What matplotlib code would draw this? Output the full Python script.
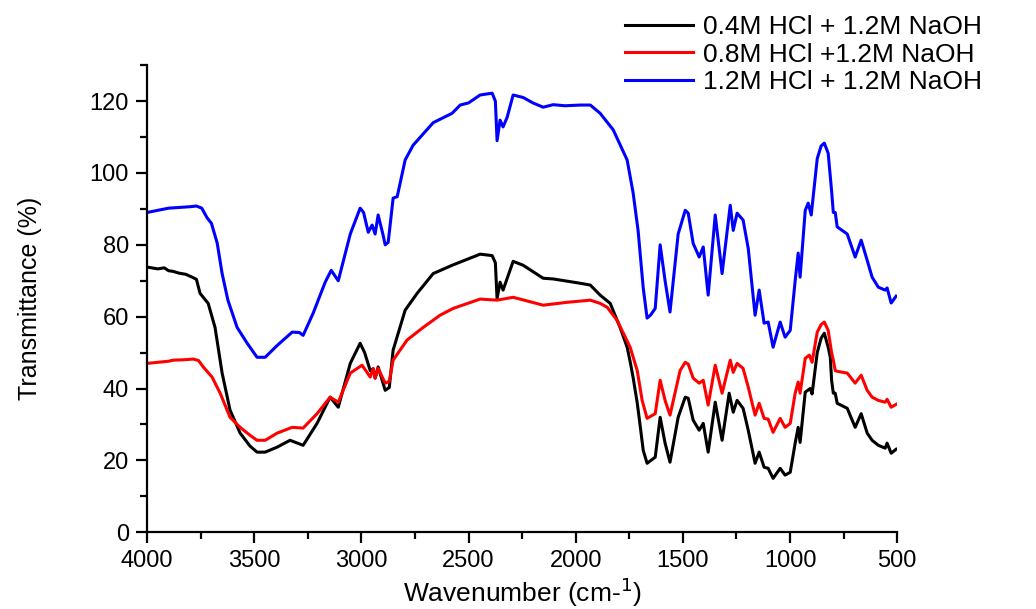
import matplotlib
matplotlib.use("Agg")
import matplotlib.pyplot as plt
from matplotlib.ticker import MultipleLocator

# ---------------- data ----------------
labels = ["0.4M HCl + 1.2M NaOH", "0.8M HCl +1.2M NaOH", "1.2M HCl + 1.2M NaOH"]
colors = ["black", "red", "blue"]

# 0.4M HCl
wn_black = [4000, 3950, 3920, 3900, 3878, 3850, 3820, 3790, 3770, 3753, 3715, 3683, 3650, 3613,
            3566, 3520, 3487, 3449, 3393, 3333, 3272, 3207, 3146, 3108, 3052, 3006, 2985, 2959,
            2945, 2936, 2922, 2889, 2870, 2852, 2796, 2740, 2665, 2577, 2539, 2446, 2390, 2375,
            2367, 2353, 2339, 2292, 2245, 2152, 2105, 1979, 1932, 1886, 1839, 1807, 1793, 1760,
            1746, 1732, 1713, 1700, 1685, 1667, 1629, 1606, 1583, 1560, 1522, 1489, 1475, 1452,
            1424, 1405, 1382, 1349, 1317, 1284, 1265, 1247, 1219, 1195, 1163, 1144, 1121, 1102,
            1079, 1046, 1023, 999, 976, 962, 953, 929, 906, 897, 873, 855, 840, 822, 812, 806,
            798, 789, 780, 733, 696, 668, 640, 617, 588, 556, 547, 528, 505]
t_black = [73.8, 73.3, 73.6, 72.8, 72.6, 72.1, 71.8, 71.0, 70.4, 66.5, 63.7, 57.0, 44.3, 34.0,
           27.6, 24.0, 22.3, 22.3, 23.7, 25.6, 24.2, 30.3, 37.6, 34.8, 47.0, 52.6, 50.0, 45.0,
           45.5, 42.9, 46.0, 39.5, 40.3, 50.7, 61.8, 66.5, 72.0, 74.3, 75.2, 77.4, 77.0, 75.0,
           65.0, 69.6, 67.4, 75.4, 74.3, 70.7, 70.5, 69.3, 68.8, 66.0, 63.7, 59.0, 57.0, 51.5,
           47.5, 43.0, 36.0, 30.0, 22.8, 19.2, 20.9, 32.0, 24.8, 19.5, 32.0, 37.6, 37.3, 31.2,
           28.4, 30.3, 22.3, 36.2, 25.6, 38.7, 33.4, 36.7, 34.5, 28.4, 19.2, 22.3, 18.1, 17.8,
           15.0, 17.8, 15.9, 16.7, 24.8, 29.2, 25.0, 39.0, 40.0, 38.5, 50.0, 54.0, 55.4, 51.5,
           48.7, 42.3, 38.7, 38.7, 35.9, 34.5, 29.2, 33.0, 27.6, 25.6, 24.2, 23.4, 24.8, 22.0, 23.1]

# 0.8M HCl
wn_red = [4000, 3950, 3900, 3878, 3830, 3785, 3760, 3738, 3697, 3659, 3613, 3566, 3520, 3487,
          3449, 3393, 3323, 3272, 3207, 3146, 3108, 3052, 2997, 2959, 2945, 2936, 2922, 2889,
          2870, 2852, 2787, 2712, 2633, 2572, 2446, 2367, 2292, 2152, 2040, 1932, 1886, 1853,
          1807, 1746, 1713, 1690, 1667, 1629, 1606, 1583, 1560, 1513, 1489, 1475, 1452, 1424,
          1405, 1382, 1349, 1317, 1279, 1265, 1247, 1219, 1195, 1163, 1144, 1121, 1102, 1079,
          1046, 1023, 999, 976, 962, 953, 929, 910, 897, 873, 855, 840, 822, 806, 798, 789,
          780, 733, 696, 668, 640, 617, 588, 556, 547, 528, 505]
t_red = [47.0, 47.3, 47.6, 47.9, 48.0, 48.2, 47.8, 46.0, 43.2, 38.7, 32.0, 29.2, 27.0, 25.6,
         25.6, 27.6, 29.2, 29.0, 33.0, 37.6, 36.2, 44.3, 46.5, 43.2, 45.6, 42.9, 45.6, 41.5,
         42.0, 47.9, 53.5, 57.0, 60.4, 62.3, 64.9, 64.6, 65.4, 63.2, 64.0, 64.6, 63.7, 62.6,
         59.0, 51.5, 45.0, 36.7, 31.7, 33.0, 42.3, 36.7, 32.6, 45.0, 47.3, 46.8, 42.9, 41.5,
         42.3, 35.4, 46.5, 38.7, 47.9, 44.5, 47.0, 45.6, 40.4, 32.6, 35.9, 31.7, 31.5, 27.8,
         31.7, 29.2, 30.3, 38.7, 41.8, 38.7, 48.4, 49.3, 47.3, 55.7, 57.8, 58.5, 56.2, 50.0,
         47.9, 45.0, 44.8, 44.3, 41.5, 43.7, 39.5, 37.6, 36.7, 36.2, 37.0, 34.8, 35.6]

# 1.2M HCl
wn_blue = [4000, 3950, 3900, 3850, 3800, 3770, 3745, 3720, 3700, 3673, 3650, 3623, 3580, 3533,
           3487, 3449, 3393, 3323, 3290, 3272, 3225, 3169, 3141, 3108, 3052, 3006, 2990, 2968,
           2950, 2936, 2922, 2900, 2889, 2875, 2852, 2833, 2796, 2759, 2665, 2577, 2539, 2500,
           2446, 2390, 2375, 2367, 2353, 2339, 2320, 2292, 2245, 2200, 2152, 2105, 2050, 1979,
           1932, 1886, 1825, 1760, 1732, 1709, 1685, 1667, 1650, 1629, 1606, 1583, 1560, 1522,
           1489, 1475, 1452, 1424, 1405, 1382, 1349, 1317, 1279, 1265, 1247, 1219, 1195, 1163,
           1144, 1121, 1102, 1079, 1046, 1023, 999, 976, 962, 953, 929, 915, 901, 873, 855,
           840, 822, 806, 798, 789, 780, 733, 696, 668, 640, 617, 588, 556, 547, 528, 505]
t_blue = [89.0, 89.6, 90.2, 90.4, 90.6, 90.8, 90.2, 87.5, 86.0, 80.5, 72.0, 64.6, 57.0, 52.6,
          48.7, 48.7, 52.0, 55.7, 55.6, 54.8, 61.0, 69.6, 72.9, 70.0, 83.0, 90.2, 89.0, 83.5,
          85.5, 83.0, 88.3, 83.0, 80.0, 80.7, 93.0, 93.4, 103.6, 107.7, 114.0, 116.6, 118.9, 119.5,
          121.7, 122.2, 120.0, 109.0, 114.7, 112.8, 115.5, 121.7, 121.0, 119.5, 118.3, 119.0, 118.7, 118.9,
          118.9, 116.6, 112.0, 103.6, 94.4, 84.0, 68.0, 59.6, 60.5, 62.3, 80.0, 70.0, 61.3, 83.0,
          89.6, 88.8, 80.4, 76.6, 79.4, 66.0, 88.3, 72.0, 91.0, 84.0, 88.8, 86.9, 79.0, 60.4,
          67.4, 58.2, 58.5, 51.5, 58.5, 54.3, 56.2, 70.0, 77.7, 71.0, 89.6, 91.6, 88.3, 104.0, 107.5,
          108.3, 105.5, 95.0, 89.0, 89.0, 85.0, 83.0, 76.6, 81.3, 75.7, 71.0, 68.2, 67.4, 68.0, 63.8, 65.7]

# ---------------- plot ----------------
plt.rcParams['font.family'] = ['Liberation Sans', 'DejaVu Sans']

fig = plt.figure(figsize=(10.36, 6.09), dpi=100)
ax = fig.add_axes([0.142, 0.126, 0.724, 0.767])

series = [(wn_black, t_black), (wn_red, t_red), (wn_blue, t_blue)]
for (wn, t), lab, c in zip(series, labels, colors):
    ax.plot(wn, t, color=c, lw=2.2, label=lab)

ax.set_xlim(4000, 500)
ax.set_ylim(0, 130)
ax.xaxis.set_major_locator(MultipleLocator(500))
ax.xaxis.set_minor_locator(MultipleLocator(250))
ax.yaxis.set_major_locator(MultipleLocator(20))
ax.yaxis.set_minor_locator(MultipleLocator(10))

for s in ["top", "right"]:
    ax.spines[s].set_visible(False)
for s in ["left", "bottom"]:
    ax.spines[s].set_linewidth(1.6)
ax.tick_params(which="major", direction="out", length=8, width=1.6, labelsize=17, pad=5)
ax.tick_params(which="minor", direction="out", length=5, width=1.6)

ax.set_xlabel("Wavenumber (cm-$^{1}$)", fontsize=19, labelpad=2)
ax.set_ylabel("Transmittance (%)", fontsize=18, labelpad=34)

fig.legend(loc="upper left", bbox_to_anchor=(0.585, 1.005), frameon=False, fontsize=19,
           handlelength=2.6, handletextpad=0.38, labelspacing=0.12, borderpad=0.2)

fig.savefig("out.png", dpi=100)
